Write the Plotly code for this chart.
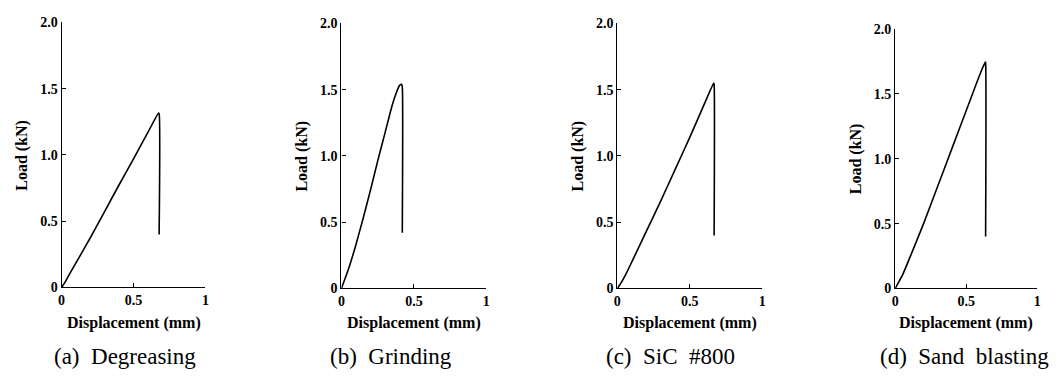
import plotly.graph_objects as go

# ---- data ----
captions = ["(a)\u00a0 Degreasing", "(b)\u00a0 Grinding", "(c)\u00a0 SiC\u00a0 #800", "(d)\u00a0 Sand\u00a0 blasting"]

disp_a = [0, 0.03, 0.06, 0.10, 0.15, 0.20, 0.30, 0.40, 0.50, 0.60, 0.673, 0.678, 0.678]
load_a = [0, 0.05, 0.11, 0.185, 0.28, 0.375, 0.575, 0.775, 0.97, 1.17, 1.315, 1.31, 0.40]

disp_b = [0, 0.05, 0.10, 0.15, 0.20, 0.25, 0.30, 0.35, 0.38, 0.40, 0.415, 0.42, 0.42]
load_b = [0, 0.15, 0.33, 0.53, 0.74, 0.96, 1.17, 1.38, 1.48, 1.53, 1.54, 1.52, 0.42]

disp_c = [0, 0.03, 0.06, 0.10, 0.20, 0.30, 0.40, 0.50, 0.60, 0.665, 0.668, 0.668]
load_c = [0, 0.05, 0.11, 0.20, 0.43, 0.66, 0.90, 1.14, 1.39, 1.55, 1.54, 0.40]

disp_d = [0, 0.05, 0.10, 0.20, 0.30, 0.40, 0.50, 0.60, 0.635, 0.637, 0.637]
load_d = [0, 0.10, 0.23, 0.50, 0.79, 1.08, 1.37, 1.66, 1.745, 1.74, 0.40]

x_tickvals = [0, 0.5, 1]
x_ticktext = ["0", "0.5", "1"]
y_tickvals = [0, 0.5, 1.0, 1.5, 2.0]
y_ticktext = ["0", "0.5", "1.0", "1.5", "2.0"]

series = [(disp_a, load_a), (disp_b, load_b), (disp_c, load_c), (disp_d, load_d)]

# ---- layout geometry ----
W, H = 1059, 380
x_doms = [(58, 203), (340, 486), (618, 764), (898, 1041)]
y_doms = [(16, 292), (17, 293), (17, 293), (23, 293)]

SERIF = "Liberation Serif"

fig = go.Figure()
annotations = []
for i, ((xs, ys), (x0, x1), (yt, yb)) in enumerate(zip(series, x_doms, y_doms)):
    n = "" if i == 0 else str(i + 1)
    fig.add_trace(go.Scatter(x=xs, y=ys, mode="lines",
                             line=dict(color="black", width=1.6, shape="spline", smoothing=0.5),
                             xaxis="x" + n, yaxis="y" + n, showlegend=False,
                             hoverinfo="skip"))
    xd = [x0 / W, x1 / W]
    yd = [(H - yb) / H, (H - yt) / H]
    fig.layout["xaxis" + n] = dict(
        domain=xd, range=[0, 1], anchor="y" + n,
        tickvals=x_tickvals, ticktext=["<b>%s</b>" % t for t in x_ticktext],
        ticks="inside", ticklen=4, tickcolor="black", tickwidth=1,
        showline=True, linecolor="black", linewidth=1.2,
        showgrid=False, zeroline=False, fixedrange=True,
        tickfont=dict(family=SERIF, size=14, color="black"),
    )
    fig.layout["yaxis" + n] = dict(
        domain=yd, range=[0, 2], anchor="x" + n,
        tickvals=y_tickvals, ticktext=["<b>%s</b>" % t for t in y_ticktext],
        ticks="inside", ticklen=4, tickcolor="black", tickwidth=1,
        showline=True, linecolor="black", linewidth=1.2,
        showgrid=False, zeroline=False, fixedrange=True,
        tickfont=dict(family=SERIF, size=14, color="black"),
    )
    xcenter = (x0 + x1) / 2 / W
    annotations.append(dict(
        text="<b>Displacement (mm)</b>", xref="paper", yref="paper",
        x=xcenter, y=(H - 329) / H, xanchor="center", yanchor="middle",
        showarrow=False, font=dict(family=SERIF, size=16, color="black")))
    annotations.append(dict(
        text="<b>Load (kN)</b>", xref="paper", yref="paper",
        x=(x0 - 40) / W, y=((H - yb) + (H - yt)) / 2 / H,
        xanchor="center", yanchor="middle", textangle=-90,
        showarrow=False, font=dict(family=SERIF, size=16, color="black")))

cap_centers = [122, 390, 672, 968]
for cx, cap in zip(cap_centers, captions):
    annotations.append(dict(
        text=cap, xref="paper", yref="paper",
        x=cx / W, y=(H - 364) / H, xanchor="center", yanchor="middle",
        showarrow=False, font=dict(family=SERIF, size=23, color="black")))

fig.update_layout(
    width=W, height=H,
    margin=dict(l=0, r=0, t=0, b=0),
    paper_bgcolor="white", plot_bgcolor="white",
    font=dict(family=SERIF, color="black"),
    annotations=annotations,
    showlegend=False,
)

fig.write_html("out.html", config={"displayModeBar": False})
